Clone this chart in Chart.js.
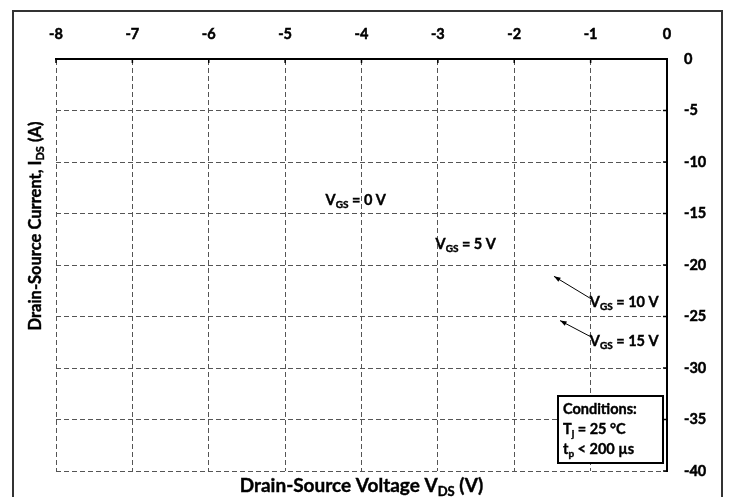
<!DOCTYPE html>
<html>
<head>
<meta charset="utf-8">
<script src="https://cdn.jsdelivr.net/npm/chart.js@4.4.0/dist/chart.umd.min.js"></script>
<style>
  html, body { margin: 0; padding: 0; background: #fff; }
</style>
</head>
<body>
<canvas id="ivChart" width="729" height="497"></canvas>
<script>
// axis ranges / ticks
const vdsTicks = [-8, -7, -6, -5, -4, -3, -2, -1, 0];
const idsTicks = [0, -5, -10, -15, -20, -25, -30, -35, -40];

// curve labels (V_GS) and where they sit, in data units
const vgsLabels = ['0', '5', '10', '15'];
const vgsLabelX = [-4.47, -3.03, -1.01, -1.01];
const vgsLabelY = [-13.7, -18.0, -23.6, -27.4];

// leader arrows for the 10 V and 15 V labels (tail -> tip), data units
const arrowFromX = [-0.99, -0.99];
const arrowFromY = [-23.3, -27.0];
const arrowToX = [-1.48, -1.40];
const arrowToY = [-21.1, -25.4];

const conditions = [
    [['Conditions:', false]],
    [['T', false], ['j', true], [' = 25 °C', false]],
    [['t', false], ['p', true], [' < 200 µs', false]]
];

const FONT = 'Lato, "Open Sans", sans-serif';

function drawRich(ctx, parts, x, y, size, align) {
    const subSize = Math.round(size * 0.68);
    let total = 0;
    parts.forEach(function (p) {
        ctx.font = 'bold ' + (p[1] ? subSize : size) + 'px ' + FONT;
        total += ctx.measureText(p[0]).width;
    });
    let cx = align === 'center' ? x - total / 2 : x;
    ctx.textAlign = 'left';
    ctx.textBaseline = 'middle';
    ctx.lineWidth = 0.4;
    ctx.strokeStyle = ctx.fillStyle;
    parts.forEach(function (p) {
        ctx.font = 'bold ' + (p[1] ? subSize : size) + 'px ' + FONT;
        const ty = p[1] ? y + size * 0.3 : y;
        ctx.fillText(p[0], cx, ty);
        ctx.strokeText(p[0], cx, ty);
        cx += ctx.measureText(p[0]).width;
    });
}

function arrow(ctx, x1, y1, x2, y2) {
    const ang = Math.atan2(y2 - y1, x2 - x1);
    ctx.beginPath();
    ctx.moveTo(x1, y1);
    ctx.lineTo(x2, y2);
    ctx.stroke();
    ctx.beginPath();
    ctx.moveTo(x2, y2);
    ctx.lineTo(x2 - 7 * Math.cos(ang - 0.35), y2 - 7 * Math.sin(ang - 0.35));
    ctx.lineTo(x2 - 7 * Math.cos(ang + 0.35), y2 - 7 * Math.sin(ang + 0.35));
    ctx.closePath();
    ctx.fill();
}

const decorPlugin = {
    id: 'decor',
    beforeDraw: function (chart) {
        const ctx = chart.ctx;
        ctx.save();
        ctx.fillStyle = '#fff';
        ctx.fillRect(0, 0, chart.width, chart.height);
        ctx.strokeStyle = '#333';
        ctx.lineWidth = 2;
        ctx.strokeRect(13, 11, 709, 500);
        ctx.restore();
    },
    afterDraw: function (chart) {
        const ctx = chart.ctx;
        const xs = chart.scales.x;
        const ys = chart.scales.y;
        const area = chart.chartArea;
        ctx.save();
        ctx.fillStyle = '#000';
        ctx.strokeStyle = '#000';

        // small tick marks inside the solid borders
        ctx.lineWidth = 1.5;
        vdsTicks.forEach(function (v) {
            const px = xs.getPixelForValue(v);
            ctx.beginPath();
            ctx.moveTo(px, area.top);
            ctx.lineTo(px, area.top + 4);
            ctx.stroke();
        });
        idsTicks.forEach(function (v) {
            const py = ys.getPixelForValue(v);
            ctx.beginPath();
            ctx.moveTo(area.right, py);
            ctx.lineTo(area.right - 4, py);
            ctx.stroke();
        });

        // axis titles
        drawRich(ctx, [['Drain-Source Voltage V', false], ['DS', true], [' (V)', false]],
            (area.left + area.right) / 2, 486, 19, 'center');
        ctx.save();
        ctx.translate(36, 226);
        ctx.rotate(-Math.PI / 2);
        drawRich(ctx, [['Drain-Source Current, I', false], ['DS', true], [' (A)', false]],
            0, 0, 16.5, 'center');
        ctx.restore();

        // curve labels
        vgsLabels.forEach(function (lab, i) {
            drawRich(ctx, [['V', false], ['GS', true], [' = ' + lab + ' V', false]],
                xs.getPixelForValue(vgsLabelX[i]), ys.getPixelForValue(vgsLabelY[i]), 14.5, 'left');
        });

        // leader arrows
        ctx.lineWidth = 1;
        ctx.strokeStyle = '#000';
        ctx.fillStyle = '#000';
        arrowFromX.forEach(function (v, i) {
            arrow(ctx, xs.getPixelForValue(v), ys.getPixelForValue(arrowFromY[i]),
                xs.getPixelForValue(arrowToX[i]), ys.getPixelForValue(arrowToY[i]));
        });

        // conditions box
        const bx = area.right - 109, by = area.bottom - 75;
        ctx.fillStyle = '#fff';
        ctx.fillRect(bx, by, 105, 67);
        ctx.lineWidth = 2;
        ctx.strokeStyle = '#000';
        ctx.strokeRect(bx, by, 105, 67);
        ctx.fillStyle = '#000';
        conditions.forEach(function (line, i) {
            drawRich(ctx, line, bx + 5, by + 13 + i * 20, 14.5, 'left');
        });
        ctx.restore();
    }
};

const tickFont = { family: FONT, size: 14.5, weight: 'bold' };

new Chart(document.getElementById('ivChart'), {
    type: 'line',
    data: { datasets: [] },
    options: {
        responsive: false,
        animation: false,
        layout: { padding: { left: 56, right: 0, top: 0, bottom: 26 } },
        plugins: { legend: { display: false }, tooltip: { enabled: false } },
        scales: {
            x: {
                type: 'linear',
                position: 'top',
                min: vdsTicks[0],
                max: vdsTicks[vdsTicks.length - 1],
                afterBuildTicks: function (s) { s.ticks = vdsTicks.map(function (v) { return { value: v }; }); },
                afterFit: function (s) { s.height = 59; },
                grid: { color: '#555', lineWidth: 1, drawTicks: false },
                border: { display: true, color: '#000', width: 2, dash: [5, 3] },
                ticks: { color: '#000', font: tickFont, padding: 16, maxRotation: 0,
                         textStrokeColor: '#000', textStrokeWidth: 0.5 }
            },
            y: {
                type: 'linear',
                position: 'right',
                min: idsTicks[idsTicks.length - 1],
                max: idsTicks[0],
                afterBuildTicks: function (s) { s.ticks = idsTicks.map(function (v) { return { value: v }; }); },
                afterFit: function (s) { s.width = 62; },
                grid: { color: '#555', lineWidth: 1, drawTicks: false },
                border: { display: true, color: '#000', width: 2, dash: [5, 3] },
                ticks: { color: '#000', font: tickFont, padding: 17,
                         textStrokeColor: '#000', textStrokeWidth: 0.5 }
            }
        }
    },
    plugins: [decorPlugin]
});
</script>
</body>
</html>
